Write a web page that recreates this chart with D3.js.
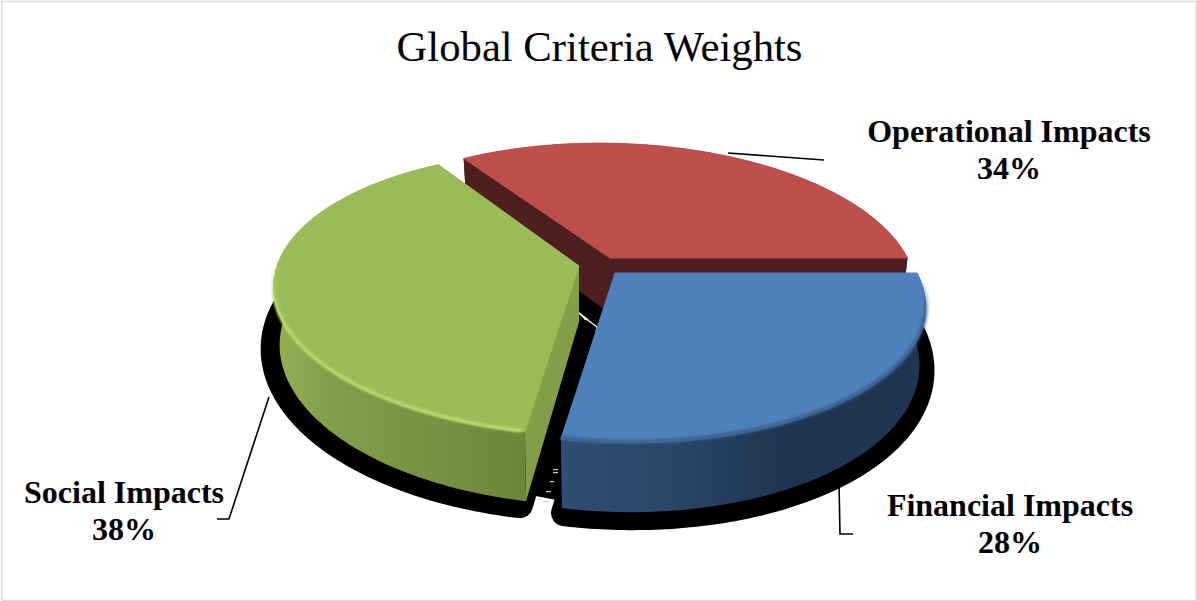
<!DOCTYPE html>
<html><head><meta charset="utf-8">
<script src="https://cdn.jsdelivr.net/npm/d3@7"></script>
<style>html,body{margin:0;padding:0;background:#fff}svg{display:block}text{font-family:"Liberation Serif",serif;fill:#000}</style>
</head><body><svg id="c" width="1197" height="601"></svg>
<script>
const categories = ["Operational Impacts","Financial Impacts","Social Impacts"];
const shares = [34,28,38];
const topColors = ["#bd4f4c","#4f81bd","#9bbb59"];
const sideColors = ["#4f1f1f","#1f3550","#829e47"];
const title = "Global Criteria Weights";

const W=1197,H=601;
const svg=d3.select("#c");
const deg=Math.PI/180;
const pie=d3.pie().sort(null).value(d=>d).startAngle(-32.4*deg).endAngle(327.6*deg);
const arcs=pie(shares).map((d,i)=>i===2?{...d,endAngle:d.endAngle+2*deg}:d);

// layout of the exploded, tilted pie
const apex=[[610,258],[615,273],[579,266]];
const radiusK=[0.985,1,1.0];
const shadowShift=[[0,5],[2,5],[-6,4]];
const RX=302,RY=137,PERSP=0.193,SHEAR=13,DEPTH=56,BOTTOM=0.98;

function proj(i,a,r,bottom){
  const u=Math.sin(a)*r, v=-Math.cos(a)*r, w=1/(1-PERSP*v);
  const k=radiusK[i]*(bottom?BOTTOM:1);
  const x=apex[i][0]+(RX*u*w+SHEAR*v*w)*k;
  const y=apex[i][1]+RY*v*w+(bottom?DEPTH*w:0);
  return [x,y];
}
const line=d3.line();
function arcPts(i,d,bottom,a0,a1){
  a0=a0===undefined?d.startAngle:a0;a1=a1===undefined?d.endAngle:a1;
  return d3.range(0,121).map(t=>proj(i,a0+(a1-a0)*t/120,1,bottom));
}
const center=(i,bottom)=>proj(i,0,0,bottom);

const defs=svg.append("defs");
function grad(id,stops){
  const g=defs.append("linearGradient").attr("id",id).attr("x1",0).attr("x2",1).attr("y1",0).attr("y2",0);
  stops.forEach(s=>g.append("stop").attr("offset",s[0]).attr("stop-color",s[1]));
}
grad("wall0",[[0,"#4f1f1f"],[1,"#4f1f1f"]]);
grad("wall1",[[0,"#2f4e75"],[0.3,"#2b4668"],[0.6,"#1f3653"],[1,"#1f3550"]]);
grad("wall2",[[0,"#93b152"],[0.2,"#82a04a"],[0.5,"#7a9644"],[1,"#6c873b"]]);
// rim strokes fade out towards the back of the pie
function fade(id,color,y0,y1){
  const g=defs.append("linearGradient").attr("id",id).attr("gradientUnits","userSpaceOnUse")
    .attr("x1",0).attr("x2",0).attr("y1",y0).attr("y2",y1);
  g.append("stop").attr("offset",0).attr("stop-color",color).attr("stop-opacity",0);
  g.append("stop").attr("offset",1).attr("stop-color",color).attr("stop-opacity",1);
}
fade("rimGreen","#b5da6b",255,305);
fade("rimBlue","#3a608f",275,320);
const mkBlur=(id,sd)=>defs.append("filter").attr("id",id).attr("filterUnits","userSpaceOnUse")
  .attr("x",0).attr("y",0).attr("width",W).attr("height",H).append("feGaussianBlur").attr("stdDeviation",sd);
mkBlur("soft",1.6);mkBlur("soft2",0.8);

// frame
svg.append("rect").attr("x",2).attr("y",1.5).attr("width",W-3).attr("height",H-2)
  .attr("fill","#fff").attr("stroke","#dcdcdc").attr("stroke-width",1.6);

svg.append("text").attr("x",599.5).attr("y",61).attr("text-anchor","middle")
  .attr("font-size",42.7).text(title);

// shadow
arcs.forEach((d,i)=>{
  svg.append("path").attr("transform",`translate(${shadowShift[i]})`)
    .attr("d",line([center(i,true),...arcPts(i,d,true),center(i,true)])+"Z")
    .attr("fill","#000").attr("stroke","#000").attr("stroke-width",26).attr("stroke-linejoin","round");
});
// black band between the social and financial slices
{
  const a=arcs[2].startAngle, b=arcs[1].endAngle;
  const pa=proj(2,a,0.97,true), pb=proj(1,b,0.97,true);
  svg.append("path").attr("d",line([center(2,true),pa,pb,center(1,true),center(0,true)])+"Z").attr("fill","#000");
}
// thin white slits inside the shadow
svg.append("path").attr("d",line([[581,315],[597,327],[596,332]])).attr("fill","none").attr("stroke","#fff").attr("stroke-width",1.3);
const specks=[[553,469,5],[553,472,5],[550,481,4],[546,491,5],[543,501,6]];
specks.forEach(s=>svg.append("rect").attr("x",s[0]).attr("y",s[1]).attr("width",s[2]).attr("height",1.2).attr("fill","#ccc"));

// leader lines
const leaders=[[[728,153],[824,160]],[[839,483],[840,534],[853,534]],[[269,397],[229,519],[217,519]]];
leaders.forEach(l=>svg.append("path").attr("d",line(l)).attr("fill","none").attr("stroke","#000").attr("stroke-width",1.6));

// slices: painted back to front
[0,2,1].forEach(i=>{
  const d=arcs[i], g=svg.append("g");
  const top=arcPts(i,d,false), bot=arcPts(i,d,true);
  const cT=center(i,false), cB=center(i,true);
  // radial side walls
  [d.startAngle,d.endAngle].forEach(a=>{
    g.append("path").attr("d",line([cT,proj(i,a,1,false),proj(i,a,1,true),cB])+"Z").attr("fill",sideColors[i]);
  });
  // outer wall
  g.append("path").attr("d",line([...top,...bot.slice().reverse()])+"Z").attr("fill",`url(#wall${i})`);
  // top
  g.append("path").attr("d",line([cT,...top])+"Z").attr("fill",topColors[i])
    .attr("stroke",topColors[i]).attr("stroke-width",1).attr("stroke-linejoin","round");
  // rim bevel on the front-facing part
  if(i===2){
    g.append("path").attr("d",line(arcPts(i,d,false,d.startAngle+0.01,275*deg).map(p=>[p[0],p[1]-1])))
      .attr("fill","none").attr("stroke","url(#rimGreen)").attr("stroke-width",3.6).attr("filter","url(#soft2)");
  }
  if(i===1){
    g.append("path").attr("d",line(arcPts(i,d,false,93*deg,d.endAngle).map(p=>[p[0],p[1]-1])))
      .attr("fill","none").attr("stroke","url(#rimBlue)").attr("stroke-width",4).attr("filter","url(#soft)");
  }
});

// labels
const labelPos=[[1009,142],[1010,516],[124,503]];
categories.forEach((c,i)=>{
  const t=svg.append("text").attr("text-anchor","middle").attr("font-weight","bold").attr("font-size",32);
  t.append("tspan").attr("x",labelPos[i][0]).attr("y",labelPos[i][1]).text(c);
  t.append("tspan").attr("x",labelPos[i][0]).attr("y",labelPos[i][1]+37).text(shares[i]+"%");
});
</script></body></html>
